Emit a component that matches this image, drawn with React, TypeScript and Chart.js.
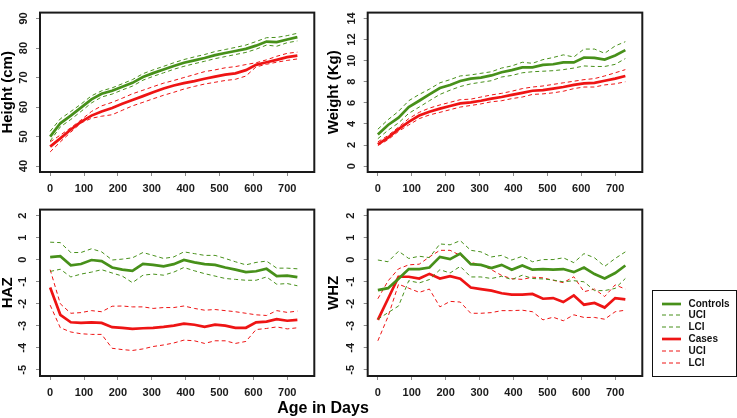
import React, { useEffect, useRef } from "react";
import { Chart, registerables } from "chart.js";
Chart.register(...registerables);

const FONT = "'Liberation Sans', Arial, Helvetica, sans-serif";
const GREEN = "#47901a";
const RED = "#ee1414";

const DAYS = [0, 30, 61, 91, 122, 152, 183, 213, 243, 274, 304, 335, 365, 395, 426, 456, 487, 517, 547, 578, 608, 639, 669, 700, 730];
const X_TICKS = [0, 100, 200, 300, 400, 500, 600, 700];

// Height (cm)
const HT_TICKS = [40, 50, 60, 70, 80, 90];
const htCtrl = [50, 54.5, 57.1, 59.8, 62.6, 64.5, 65.5, 66.9, 68.2, 70.2, 71.5, 72.7, 73.9, 75, 75.8, 76.6, 77.6, 78.3, 79, 79.7, 80.8, 82.2, 82, 82.9, 83.7];
const htCtrlU = [51.8, 56, 58.5, 61, 63.8, 65.5, 66.5, 67.9, 69.3, 71.3, 72.6, 73.8, 75, 76.1, 77, 77.8, 78.8, 79.5, 80.2, 81, 82.2, 83.5, 83.6, 84.2, 85];
const htCtrlL = [48.5, 53.3, 55.8, 58.5, 61.4, 63.4, 64.4, 65.8, 67.1, 69.1, 70.4, 71.6, 72.8, 73.8, 74.7, 75.5, 76.4, 77.1, 77.8, 78.5, 79.6, 81, 80.6, 81.8, 82.4];
const htCase = [46.6, 49.4, 52.4, 55, 57.1, 58.5, 59.7, 61.1, 62.4, 63.7, 65, 66.3, 67.3, 68.1, 68.8, 69.6, 70.3, 71, 71.4, 72.5, 74.3, 75.2, 76, 76.9, 77.4];
const htCaseU = [48.2, 50.5, 53, 55.6, 58.5, 60.4, 61.6, 63, 64.5, 65.7, 66.9, 68.1, 69, 70, 71, 72, 72.6, 73.3, 73.7, 74.4, 75, 76, 77.2, 78.2, 78.6];
const htCaseL = [44.8, 48.2, 51.5, 54.6, 56.2, 56.9, 57.4, 58.9, 60.4, 61.6, 62.8, 64, 65, 66.1, 67, 67.8, 68.4, 69, 69.4, 70.5, 73.6, 74.5, 75.2, 75.8, 76.3];

// Weight (Kg)
const WT_TICKS = [0, 2, 4, 6, 8, 10, 12, 14];
const wtCtrl = [3, 3.9, 4.6, 5.6, 6.2, 6.8, 7.4, 7.7, 8.07, 8.3, 8.4, 8.6, 8.9, 9.1, 9.36, 9.36, 9.6, 9.66, 9.83, 9.83, 10.3, 10.27, 10.1, 10.5, 11];
const wtCtrlU = [3.5, 4.4, 5.2, 6.2, 6.8, 7.3, 7.9, 8.2, 8.55, 8.65, 8.8, 8.95, 9.3, 9.5, 9.85, 9.75, 10.1, 10.3, 10.55, 10.35, 11.1, 11.1, 10.7, 11.4, 11.8];
const wtCtrlL = [2.6, 3.4, 4.1, 5, 5.6, 6.2, 6.8, 7.2, 7.55, 7.8, 7.95, 8.1, 8.45, 8.6, 8.85, 8.95, 9, 9.05, 9.15, 9.3, 9.5, 9.45, 9.45, 9.65, 10.2];
const wtCase = [2.05, 2.7, 3.5, 4.2, 4.8, 5.15, 5.45, 5.7, 5.95, 6.05, 6.2, 6.4, 6.55, 6.75, 6.95, 7.15, 7.2, 7.35, 7.5, 7.7, 7.85, 7.9, 8.1, 8.3, 8.55];
const wtCaseU = [2.3, 2.9, 3.7, 4.5, 5.1, 5.5, 5.8, 6.05, 6.3, 6.35, 6.55, 6.75, 6.9, 7.1, 7.35, 7.5, 7.6, 7.75, 7.9, 8.05, 8.2, 8.3, 8.55, 8.85, 9.15];
const wtCaseL = [1.95, 2.5, 3.3, 3.9, 4.5, 4.85, 5.1, 5.35, 5.6, 5.75, 5.9, 6.1, 6.2, 6.4, 6.55, 6.8, 6.85, 6.95, 7.1, 7.35, 7.5, 7.5, 7.7, 7.8, 8];

// Z-scores
const Z_TICKS = [-5, -4, -3, -2, -1, 0, 1, 2];
const hazCtrl = [0.12, 0.16, -0.25, -0.19, -0.01, -0.06, -0.35, -0.45, -0.5, -0.19, -0.23, -0.3, -0.2, -0.01, -0.12, -0.2, -0.23, -0.35, -0.45, -0.56, -0.52, -0.41, -0.74, -0.72, -0.79];
const hazCtrlU = [0.8, 0.78, 0.33, 0.33, 0.5, 0.36, -0.01, 0.03, 0.09, 0.33, 0.2, 0.06, 0.13, 0.36, 0.28, 0.2, 0.2, 0.06, -0.09, -0.23, -0.12, -0.06, -0.38, -0.38, -0.41];
const hazCtrlL = [-0.53, -0.43, -0.78, -0.65, -0.56, -0.45, -0.6, -0.74, -1.04, -0.7, -0.65, -0.7, -0.56, -0.35, -0.5, -0.63, -0.74, -0.85, -0.89, -0.93, -0.93, -0.78, -1.11, -1.08, -1.18];
const hazCase = [-1.26, -2.5, -2.84, -2.87, -2.84, -2.87, -3.06, -3.09, -3.14, -3.11, -3.09, -3.05, -2.99, -2.9, -2.95, -3.05, -2.95, -2.99, -3.09, -3.09, -2.84, -2.81, -2.7, -2.77, -2.73];
const hazCaseU = [-0.45, -2, -2.43, -2.4, -2.31, -2.36, -2.11, -2.1, -2.14, -2.14, -2.21, -2.17, -2.17, -2.1, -2.21, -2.29, -2.26, -2.31, -2.36, -2.43, -2.5, -2.53, -2.31, -2.39, -2.33];
const hazCaseL = [-2.06, -3.09, -3.28, -3.36, -3.39, -3.39, -4.02, -4.08, -4.12, -4.05, -3.94, -3.87, -3.78, -3.65, -3.68, -3.8, -3.68, -3.68, -3.8, -3.71, -3.17, -3.12, -3.05, -3.14, -3.09];

const whzCtrl = [-1.38, -1.29, -0.86, -0.42, -0.42, -0.35, 0.13, 0.03, 0.28, -0.2, -0.23, -0.38, -0.23, -0.45, -0.26, -0.45, -0.42, -0.45, -0.42, -0.56, -0.35, -0.65, -0.85, -0.6, -0.26];
const whzCtrlU = [-0.01, -0.09, 0.39, 0.06, 0.16, 0.1, 0.72, 0.68, 0.87, 0.43, 0.36, 0.13, 0.2, -0.01, 0.16, -0.09, 0.01, 0.01, 0.09, -0.13, 0.28, 0.09, -0.3, 0.06, 0.36];
const whzCtrlL = [-2.7, -2.4, -2.1, -0.95, -1.05, -0.9, -0.45, -0.6, -0.3, -0.78, -0.78, -0.85, -0.75, -0.9, -0.7, -0.85, -0.87, -0.92, -1, -0.95, -1, -1.4, -1.4, -1.3, -0.85];
const whzCase = [-2.73, -1.77, -0.77, -0.77, -0.85, -0.64, -0.85, -0.74, -0.86, -1.26, -1.33, -1.4, -1.52, -1.58, -1.58, -1.55, -1.77, -1.74, -1.92, -1.62, -2.04, -1.96, -2.17, -1.74, -1.8];
const whzCaseU = [-1.77, -0.96, -0.41, -0.23, -0.2, 0.13, 0.43, 0.43, 0.2, -0.12, -0.23, -0.45, -0.71, -0.86, -0.89, -0.79, -0.82, -0.93, -1.04, -0.77, -1.45, -1.33, -1.67, -1.14, -1.33];
const whzCaseL = [-3.68, -2.58, -1.11, -1.29, -1.48, -1.33, -2.14, -1.89, -1.92, -2.43, -2.43, -2.4, -2.31, -2.31, -2.29, -2.36, -2.73, -2.61, -2.77, -2.5, -2.62, -2.62, -2.7, -2.36, -2.29];

const LEGEND_LABELS = ["Controls", "UCI", "LCI", "Cases", "UCI", "LCI"];

const boxPlugin = {
  id: "rbox",
  afterDraw(chart: any) {
    const { ctx, chartArea } = chart;
    const { left, top, right, bottom } = chartArea;
    ctx.save();
    ctx.strokeStyle = "#1a1a1a";
    ctx.lineWidth = 2;
    ctx.strokeRect(left, top, right - left, bottom - top);
    ctx.restore();
  },
};

function series(vals: number[]) {
  return DAYS.map((d, i) => ({ x: d, y: vals[i] }));
}

function makeDatasets(cm: number[], cu: number[], cl: number[], km: number[], ku: number[], kl: number[]) {
  const dash = (data: number[], color: string) => ({
    data: series(data),
    borderColor: color,
    borderWidth: 1,
    borderDash: [4, 3],
    pointRadius: 0,
    tension: 0,
    fill: false,
  });
  const solid = (data: number[], color: string) => ({
    data: series(data),
    borderColor: color,
    borderWidth: 2.7,
    pointRadius: 0,
    tension: 0,
    fill: false,
  });
  return [dash(cu, GREEN), dash(cl, GREEN), solid(cm, GREEN), dash(ku, RED), dash(kl, RED), solid(km, RED)];
}

type PanelProps = {
  left: number;
  top: number;
  width: number;
  height: number;
  padTop: number;
  padRight: number;
  yWidth: number;
  xHeight: number;
  yMin: number;
  yMax: number;
  yTicks: number[];
  yTitle: string;
  yPad: number;
  datasets: any[];
};

function Panel(p: PanelProps) {
  const ref = useRef<HTMLCanvasElement | null>(null);
  useEffect(() => {
    if (!ref.current) return;
    const tickFont = { family: FONT, size: 11, weight: "bold" as const };
    const chart = new Chart(ref.current, {
      type: "line",
      data: { datasets: p.datasets },
      options: {
        responsive: false,
        animation: false,
        devicePixelRatio: 1,
        layout: { padding: { top: p.padTop, right: p.padRight, left: 0, bottom: 0 } },
        plugins: { legend: { display: false }, tooltip: { enabled: false } },
        scales: {
          x: {
            type: "linear",
            min: -30,
            max: 780,
            afterBuildTicks: (s: any) => {
              s.ticks = X_TICKS.map((v) => ({ value: v }));
            },
            afterFit: (s: any) => {
              s.height = p.xHeight;
            },
            grid: { display: true, drawOnChartArea: false, drawTicks: true, tickLength: 4, color: "#8a8a8a" },
            border: { display: false },
            ticks: { font: tickFont, color: "#1a1a1a", padding: 6, maxRotation: 0, autoSkip: false },
          },
          y: {
            type: "linear",
            min: p.yMin,
            max: p.yMax,
            afterBuildTicks: (s: any) => {
              s.ticks = p.yTicks.map((v) => ({ value: v }));
            },
            afterFit: (s: any) => {
              s.width = p.yWidth;
            },
            grid: { display: true, drawOnChartArea: false, drawTicks: true, tickLength: 4, color: "#8a8a8a" },
            border: { display: false },
            ticks: {
              font: tickFont,
              color: "#1a1a1a",
              padding: p.yPad,
              minRotation: 90,
              maxRotation: 90,
              crossAlign: "center",
              autoSkip: false,
            },
            title: {
              display: true,
              text: p.yTitle,
              color: "#000",
              font: { family: FONT, size: 15, weight: "bold", lineHeight: 1 },
              padding: 0,
            },
          },
        },
      },
      plugins: [boxPlugin],
    } as any);
    return () => chart.destroy();
  }, []);
  return (
    <canvas
      ref={ref}
      width={p.width}
      height={p.height}
      style={{ position: "absolute", left: p.left, top: p.top, width: p.width, height: p.height }}
    />
  );
}

function LegendLine({ color, dashed }: { color: string; dashed: boolean }) {
  return (
    <svg width={20} height={6} style={{ position: "absolute", left: 9, top: -3 }}>
      <line
        x1={0}
        y1={3}
        x2={19}
        y2={3}
        stroke={color}
        strokeWidth={dashed ? 1 : 2.7}
        strokeDasharray={dashed ? "4 3" : undefined}
      />
    </svg>
  );
}

export default function App() {
  const legendColors = [GREEN, GREEN, GREEN, RED, RED, RED];
  const legendDashed = [false, true, true, false, true, true];
  return (
    <div style={{ position: "fixed", left: 0, top: 0, width: 737, height: 418, background: "#fff", overflow: "hidden" }}>
      <Panel
        left={0}
        top={0}
        width={330}
        height={200}
        padTop={1}
        padRight={15.7}
        yWidth={40}
        xHeight={28}
        yMin={38}
        yMax={92}
        yTicks={HT_TICKS}
        yTitle="Height (cm)"
        yPad={6}
        datasets={makeDatasets(htCtrl, htCtrlU, htCtrlL, htCase, htCaseU, htCaseL)}
      />
      <Panel
        left={326}
        top={0}
        width={330}
        height={200}
        padTop={1}
        padRight={13.7}
        yWidth={41.7}
        xHeight={28}
        yMin={-0.56}
        yMax={14.56}
        yTicks={WT_TICKS}
        yTitle="Weight (Kg)"
        yPad={6}
        datasets={makeDatasets(wtCtrl, wtCtrlU, wtCtrlL, wtCase, wtCaseU, wtCaseL)}
      />
      <Panel
        left={0}
        top={195}
        width={330}
        height={210}
        padTop={9.5}
        padRight={15.7}
        yWidth={40}
        xHeight={29}
        yMin={-5.28}
        yMax={2.28}
        yTicks={Z_TICKS}
        yTitle="HAZ"
        yPad={8}
        datasets={makeDatasets(hazCtrl, hazCtrlU, hazCtrlL, hazCase, hazCaseU, hazCaseL)}
      />
      <Panel
        left={326}
        top={195}
        width={330}
        height={210}
        padTop={9.5}
        padRight={13.7}
        yWidth={41.7}
        xHeight={29}
        yMin={-5.28}
        yMax={2.28}
        yTicks={Z_TICKS}
        yTitle="WHZ"
        yPad={8}
        datasets={makeDatasets(whzCtrl, whzCtrlU, whzCtrlL, whzCase, whzCaseU, whzCaseL)}
      />
      <div
        style={{
          position: "absolute",
          left: 0,
          top: 400,
          width: 646,
          textAlign: "center",
          fontFamily: FONT,
          fontWeight: "bold",
          fontSize: 16,
          lineHeight: "16px",
          color: "#000",
        }}
      >
        Age in Days
      </div>
      <div
        style={{
          position: "absolute",
          left: 651.5,
          top: 290,
          width: 85.5,
          height: 87,
          border: "1.5px solid #111",
          boxSizing: "border-box",
        }}
      >
        {LEGEND_LABELS.map((lab, i) => (
          <div key={i} style={{ position: "absolute", left: 0, top: 12.5 + i * 11.9, width: 80, height: 0 }}>
            <LegendLine color={legendColors[i]} dashed={legendDashed[i]} />
            <span
              style={{
                position: "absolute",
                left: 36,
                top: -6,
                fontFamily: FONT,
                fontWeight: "bold",
                fontSize: 10,
                lineHeight: "12px",
                color: "#111",
                whiteSpace: "nowrap",
              }}
            >
              {lab}
            </span>
          </div>
        ))}
      </div>
    </div>
  );
}
